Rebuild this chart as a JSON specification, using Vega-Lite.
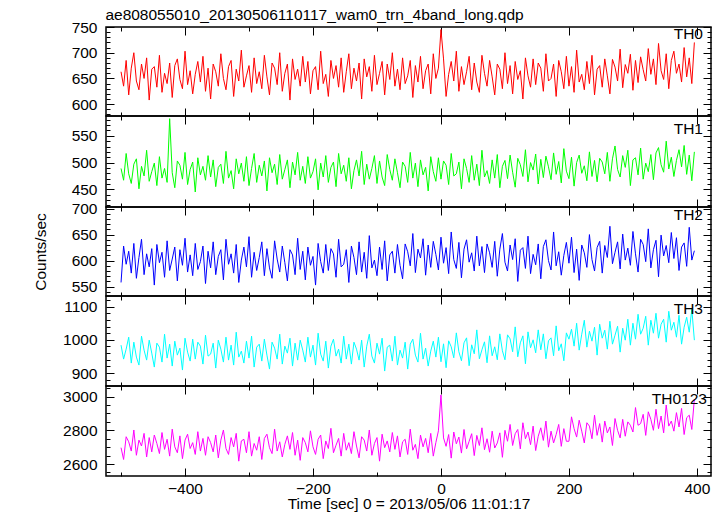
{
"$schema": "https://vega.github.io/schema/vega-lite/v6.json",
"padding": {"left": 32, "top": 7, "right": 0, "bottom": 0},
"title": {"text": "ae808055010_20130506110117_wam0_trn_4band_long.qdp", "anchor": "start", "fontSize": 15.5, "offset": -4, "dx": 73},
"config": {
  "font": "Liberation Sans",
  "view": {"stroke": "#000", "strokeWidth": 1.5},
  "title": {"font": "Liberation Sans", "fontWeight": "normal", "fontSize": 15.5, "color": "#000"},
  "axis": {"domain": false, "grid": false, "zindex": 1, "tickColor": "#000", "tickWidth": 1, "labelColor": "#000", "labelFont": "Liberation Sans", "labelFontSize": 15.5, "titleFont": "Liberation Sans", "titleFontSize": 15.5, "titleFontWeight": "normal", "titleColor": "#000", "labelOverlap": false, "labelFlush": false, "labelPadding": 17, "format": "d"}
},
"data": {"values": [
{"t":-500,"a":663,"b":489,"c":558,"d":984,"e":2697},
{"t":-496,"a":635,"b":467,"c":628,"d":942,"e":2627},
{"t":-492,"a":685,"b":517,"c":593,"d":972,"e":2762},
{"t":-488,"a":618,"b":479,"c":618,"d":1008,"e":2732},
{"t":-484,"a":670,"b":461,"c":576,"d":930,"e":2677},
{"t":-480,"a":700,"b":497,"c":633,"d":993,"e":2802},
{"t":-476,"a":645,"b":507,"c":566,"d":948,"e":2652},
{"t":-472,"a":628,"b":451,"c":606,"d":924,"e":2742},
{"t":-468,"a":678,"b":493,"c":641,"d":1011,"e":2707},
{"t":-464,"a":650,"b":475,"c":573,"d":969,"e":2782},
{"t":-460,"a":690,"b":523,"c":613,"d":939,"e":2642},
{"t":-456,"a":608,"b":465,"c":588,"d":999,"e":2757},
{"t":-452,"a":668,"b":483,"c":623,"d":960,"e":2672},
{"t":-448,"a":673,"b":499,"c":553,"d":918,"e":2772},
{"t":-444,"a":633,"b":457,"c":631,"d":990,"e":2722},
{"t":-440,"a":695,"b":511,"c":596,"d":978,"e":2662},
{"t":-436,"a":623,"b":471,"c":616,"d":933,"e":2787},
{"t":-432,"a":660,"b":489,"c":568,"d":1017,"e":2687},
{"t":-428,"a":640,"b":463,"c":638,"d":945,"e":2747},
{"t":-424,"a":680,"b":582,"c":581,"d":987,"e":2647},
{"t":-420,"a":613,"b":481,"c":603,"d":921,"e":2807},
{"t":-416,"a":675,"b":453,"c":626,"d":996,"e":2702},
{"t":-412,"a":688,"b":503,"c":561,"d":954,"e":2667},
{"t":-408,"a":648,"b":495,"c":621,"d":975,"e":2767},
{"t":-404,"a":630,"b":469,"c":591,"d":909,"e":2632},
{"t":-400,"a":703,"b":519,"c":643,"d":1005,"e":2742},
{"t":-396,"a":638,"b":459,"c":578,"d":963,"e":2777},
{"t":-392,"a":665,"b":487,"c":611,"d":936,"e":2692},
{"t":-388,"a":620,"b":501,"c":571,"d":1002,"e":2727},
{"t":-384,"a":658,"b":445,"c":633,"d":942,"e":2657},
{"t":-380,"a":683,"b":509,"c":583,"d":993,"e":2792},
{"t":-376,"a":643,"b":477,"c":598,"d":981,"e":2677},
{"t":-372,"a":693,"b":493,"c":628,"d":927,"e":2752},
{"t":-368,"a":625,"b":467,"c":556,"d":1014,"e":2652},
{"t":-364,"a":670,"b":513,"c":618,"d":951,"e":2762},
{"t":-360,"a":610,"b":473,"c":586,"d":957,"e":2727},
{"t":-356,"a":678,"b":505,"c":636,"d":990,"e":2672},
{"t":-352,"a":663,"b":455,"c":573,"d":915,"e":2772},
{"t":-348,"a":635,"b":491,"c":608,"d":999,"e":2637},
{"t":-344,"a":698,"b":497,"c":621,"d":972,"e":2742},
{"t":-340,"a":650,"b":461,"c":563,"d":933,"e":2802},
{"t":-336,"a":628,"b":521,"c":641,"d":1008,"e":2692},
{"t":-332,"a":673,"b":471,"c":593,"d":939,"e":2657},
{"t":-328,"a":685,"b":485,"c":613,"d":984,"e":2757},
{"t":-324,"a":615,"b":451,"c":576,"d":924,"e":2702},
{"t":-320,"a":668,"b":507,"c":631,"d":1023,"e":2782},
{"t":-316,"a":645,"b":479,"c":558,"d":948,"e":2617},
{"t":-312,"a":705,"b":499,"c":601,"d":966,"e":2737},
{"t":-308,"a":633,"b":465,"c":626,"d":930,"e":2747},
{"t":-304,"a":655,"b":511,"c":588,"d":996,"e":2667},
{"t":-300,"a":675,"b":457,"c":646,"d":945,"e":2792},
{"t":-296,"a":623,"b":489,"c":568,"d":1011,"e":2647},
{"t":-292,"a":690,"b":517,"c":616,"d":918,"e":2722},
{"t":-288,"a":640,"b":463,"c":581,"d":978,"e":2682},
{"t":-284,"a":663,"b":495,"c":606,"d":987,"e":2762},
{"t":-280,"a":630,"b":475,"c":636,"d":936,"e":2627},
{"t":-276,"a":695,"b":503,"c":571,"d":1002,"e":2752},
{"t":-272,"a":653,"b":447,"c":623,"d":954,"e":2777},
{"t":-268,"a":618,"b":509,"c":586,"d":912,"e":2697},
{"t":-264,"a":680,"b":481,"c":566,"d":993,"e":2662},
{"t":-260,"a":670,"b":497,"c":638,"d":975,"e":2807},
{"t":-256,"a":638,"b":459,"c":603,"d":942,"e":2677},
{"t":-252,"a":700,"b":515,"c":578,"d":1017,"e":2732},
{"t":-248,"a":625,"b":469,"c":628,"d":927,"e":2642},
{"t":-244,"a":660,"b":487,"c":596,"d":981,"e":2717},
{"t":-240,"a":678,"b":505,"c":561,"d":960,"e":2767},
{"t":-236,"a":608,"b":453,"c":621,"d":1005,"e":2687},
{"t":-232,"a":688,"b":501,"c":611,"d":921,"e":2787},
{"t":-228,"a":648,"b":477,"c":573,"d":990,"e":2652},
{"t":-224,"a":668,"b":519,"c":643,"d":939,"e":2742},
{"t":-220,"a":635,"b":467,"c":583,"d":999,"e":2622},
{"t":-216,"a":693,"b":493,"c":618,"d":969,"e":2757},
{"t":-212,"a":643,"b":461,"c":563,"d":933,"e":2727},
{"t":-208,"a":683,"b":511,"c":626,"d":1008,"e":2672},
{"t":-204,"a":620,"b":471,"c":591,"d":948,"e":2797},
{"t":-200,"a":665,"b":483,"c":608,"d":984,"e":2702},
{"t":-196,"a":673,"b":507,"c":553,"d":924,"e":2657},
{"t":-192,"a":628,"b":449,"c":633,"d":1020,"e":2747},
{"t":-188,"a":703,"b":499,"c":598,"d":957,"e":2772},
{"t":-184,"a":640,"b":473,"c":576,"d":936,"e":2632},
{"t":-180,"a":658,"b":513,"c":631,"d":996,"e":2737},
{"t":-176,"a":615,"b":463,"c":581,"d":915,"e":2692},
{"t":-172,"a":685,"b":491,"c":623,"d":981,"e":2812},
{"t":-168,"a":650,"b":501,"c":613,"d":1002,"e":2667},
{"t":-164,"a":675,"b":455,"c":568,"d":951,"e":2712},
{"t":-160,"a":633,"b":517,"c":641,"d":972,"e":2752},
{"t":-156,"a":690,"b":479,"c":588,"d":930,"e":2647},
{"t":-152,"a":623,"b":495,"c":593,"d":1011,"e":2782},
{"t":-148,"a":663,"b":465,"c":621,"d":942,"e":2682},
{"t":-144,"a":698,"b":509,"c":558,"d":987,"e":2727},
{"t":-140,"a":630,"b":451,"c":628,"d":927,"e":2662},
{"t":-136,"a":670,"b":485,"c":606,"d":993,"e":2792},
{"t":-132,"a":645,"b":505,"c":573,"d":972,"e":2707},
{"t":-128,"a":680,"b":475,"c":636,"d":939,"e":2637},
{"t":-124,"a":610,"b":521,"c":578,"d":999,"e":2762},
{"t":-120,"a":688,"b":459,"c":616,"d":918,"e":2742},
{"t":-116,"a":653,"b":497,"c":566,"d":981,"e":2677},
{"t":-112,"a":673,"b":469,"c":648,"d":1017,"e":2802},
{"t":-108,"a":625,"b":489,"c":586,"d":951,"e":2652},
{"t":-104,"a":695,"b":513,"c":601,"d":930,"e":2722},
{"t":-100,"a":638,"b":461,"c":571,"d":990,"e":2757},
{"t":-96,"a":660,"b":503,"c":626,"d":957,"e":2617},
{"t":-92,"a":683,"b":473,"c":583,"d":1005,"e":2777},
{"t":-88,"a":618,"b":457,"c":638,"d":906,"e":2697},
{"t":-84,"a":678,"b":515,"c":561,"d":978,"e":2737},
{"t":-80,"a":648,"b":487,"c":611,"d":984,"e":2672},
{"t":-76,"a":700,"b":467,"c":618,"d":936,"e":2787},
{"t":-72,"a":635,"b":507,"c":576,"d":1011,"e":2687},
{"t":-68,"a":668,"b":481,"c":631,"d":924,"e":2767},
{"t":-64,"a":628,"b":453,"c":591,"d":969,"e":2642},
{"t":-60,"a":690,"b":501,"c":565,"d":945,"e":2732},
{"t":-56,"a":640,"b":493,"c":632,"d":993,"e":2747},
{"t":-52,"a":655,"b":463,"c":617,"d":912,"e":2657},
{"t":-48,"a":685,"b":519,"c":590,"d":987,"e":2807},
{"t":-44,"a":613,"b":471,"c":652,"d":1002,"e":2682},
{"t":-40,"a":675,"b":499,"c":577,"d":954,"e":2717},
{"t":-36,"a":643,"b":455,"c":622,"d":933,"e":2632},
{"t":-32,"a":693,"b":505,"c":605,"d":1020,"e":2772},
{"t":-28,"a":630,"b":477,"c":642,"d":942,"e":2702},
{"t":-24,"a":665,"b":491,"c":572,"d":975,"e":2752},
{"t":-20,"a":678,"b":447,"c":630,"d":921,"e":2667},
{"t":-16,"a":620,"b":511,"c":587,"d":966,"e":2782},
{"t":-12,"a":698,"b":483,"c":637,"d":996,"e":2647},
{"t":-8,"a":650,"b":465,"c":612,"d":948,"e":2727},
{"t":-4,"a":670,"b":509,"c":582,"d":1008,"e":2797},
{"t":0,"a":745,"b":469,"c":645,"d":934,"e":3010},
{"t":4,"a":688,"b":503,"c":595,"d":988,"e":2755},
{"t":8,"a":615,"b":495,"c":625,"d":916,"e":2705},
{"t":12,"a":658,"b":459,"c":575,"d":997,"e":2775},
{"t":16,"a":683,"b":517,"c":655,"d":979,"e":2635},
{"t":20,"a":645,"b":475,"c":602,"d":946,"e":2790},
{"t":24,"a":703,"b":479,"c":585,"d":1021,"e":2720},
{"t":28,"a":625,"b":501,"c":635,"d":964,"e":2760},
{"t":32,"a":673,"b":451,"c":567,"d":937,"e":2665},
{"t":36,"a":638,"b":507,"c":622,"d":991,"e":2805},
{"t":40,"a":663,"b":489,"c":640,"d":1006,"e":2690},
{"t":44,"a":693,"b":463,"c":597,"d":922,"e":2735},
{"t":48,"a":628,"b":513,"c":615,"d":985,"e":2780},
{"t":52,"a":680,"b":467,"c":580,"d":958,"e":2650},
{"t":56,"a":643,"b":497,"c":647,"d":1030,"e":2770},
{"t":60,"a":623,"b":457,"c":590,"d":943,"e":2710},
{"t":64,"a":695,"b":523,"c":627,"d":970,"e":2815},
{"t":68,"a":660,"b":473,"c":577,"d":994,"e":2685},
{"t":72,"a":635,"b":485,"c":632,"d":931,"e":2750},
{"t":76,"a":685,"b":461,"c":615,"d":1012,"e":2670},
{"t":80,"a":653,"b":505,"c":587,"d":952,"e":2795},
{"t":84,"a":618,"b":471,"c":637,"d":979,"e":2695},
{"t":88,"a":678,"b":515,"c":570,"d":940,"e":2725},
{"t":92,"a":668,"b":453,"c":622,"d":1018,"e":2785},
{"t":96,"a":630,"b":493,"c":652,"d":967,"e":2640},
{"t":100,"a":700,"b":504,"c":597,"d":940,"e":2800},
{"t":104,"a":640,"b":470,"c":580,"d":1015,"e":2735},
{"t":108,"a":675,"b":514,"c":630,"d":1003,"e":2835},
{"t":112,"a":620,"b":482,"c":602,"d":964,"e":2710},
{"t":116,"a":683,"b":454,"c":642,"d":1039,"e":2780},
{"t":120,"a":648,"b":508,"c":560,"d":949,"e":2805},
{"t":124,"a":665,"b":496,"c":620,"d":991,"e":2690},
{"t":128,"a":610,"b":474,"c":625,"d":1012,"e":2845},
{"t":132,"a":690,"b":524,"c":585,"d":928,"e":2750},
{"t":136,"a":655,"b":464,"c":647,"d":1024,"e":2790},
{"t":140,"a":633,"b":500,"c":575,"d":976,"e":2715},
{"t":144,"a":688,"b":486,"c":612,"d":1000,"e":2825},
{"t":148,"a":638,"b":516,"c":592,"d":961,"e":2680},
{"t":152,"a":680,"b":460,"c":632,"d":1030,"e":2765},
{"t":156,"a":670,"b":506,"c":565,"d":970,"e":2815},
{"t":160,"a":625,"b":472,"c":627,"d":1018,"e":2740},
{"t":164,"a":698,"b":512,"c":640,"d":943,"e":2855},
{"t":168,"a":645,"b":492,"c":600,"d":997,"e":2700},
{"t":172,"a":650,"b":468,"c":582,"d":1006,"e":2795},
{"t":176,"a":678,"b":518,"c":655,"d":952,"e":2725},
{"t":180,"a":615,"b":478,"c":590,"d":1042,"e":2775},
{"t":184,"a":685,"b":502,"c":617,"d":967,"e":2835},
{"t":188,"a":663,"b":462,"c":572,"d":988,"e":2705},
{"t":192,"a":630,"b":526,"c":610,"d":937,"e":2810},
{"t":196,"a":693,"b":484,"c":635,"d":1021,"e":2735},
{"t":200,"a":635,"b":470,"c":595,"d":1002,"e":2735},
{"t":204,"a":673,"b":510,"c":645,"d":1032,"e":2880},
{"t":208,"a":623,"b":456,"c":577,"d":981,"e":2810},
{"t":212,"a":705,"b":500,"c":622,"d":1050,"e":2760},
{"t":216,"a":643,"b":514,"c":562,"d":969,"e":2860},
{"t":220,"a":658,"b":480,"c":630,"d":1017,"e":2795},
{"t":224,"a":628,"b":494,"c":615,"d":1059,"e":2725},
{"t":228,"a":683,"b":466,"c":587,"d":978,"e":2845},
{"t":232,"a":640,"b":520,"c":650,"d":1026,"e":2825},
{"t":236,"a":695,"b":474,"c":602,"d":996,"e":2750},
{"t":240,"a":618,"b":504,"c":580,"d":1038,"e":2890},
{"t":244,"a":668,"b":464,"c":625,"d":954,"e":2770},
{"t":248,"a":675,"b":508,"c":637,"d":1047,"e":2840},
{"t":252,"a":633,"b":501,"c":576,"d":1005,"e":2730},
{"t":256,"a":688,"b":479,"c":629,"d":1029,"e":2855},
{"t":260,"a":655,"b":519,"c":606,"d":972,"e":2785},
{"t":264,"a":620,"b":465,"c":666,"d":1056,"e":2820},
{"t":268,"a":687,"b":507,"c":594,"d":987,"e":2710},
{"t":272,"a":672,"b":531,"c":616,"d":1014,"e":2870},
{"t":276,"a":645,"b":487,"c":636,"d":1041,"e":2800},
{"t":280,"a":707,"b":473,"c":584,"d":963,"e":2755},
{"t":284,"a":632,"b":513,"c":651,"d":1035,"e":2865},
{"t":288,"a":677,"b":491,"c":601,"d":999,"e":2765},
{"t":292,"a":660,"b":523,"c":624,"d":1062,"e":2850},
{"t":296,"a":697,"b":457,"c":591,"d":984,"e":2830},
{"t":300,"a":627,"b":505,"c":656,"d":1050,"e":2790},
{"t":304,"a":685,"b":509,"c":613,"d":1002,"e":2935},
{"t":308,"a":642,"b":477,"c":578,"d":1077,"e":2830},
{"t":312,"a":692,"b":527,"c":641,"d":1017,"e":2840},
{"t":316,"a":667,"b":469,"c":631,"d":1035,"e":2895},
{"t":320,"a":645,"b":499,"c":598,"d":1071,"e":2770},
{"t":324,"a":708,"b":483,"c":661,"d":984,"e":2910},
{"t":328,"a":658,"b":515,"c":586,"d":1059,"e":2865},
{"t":332,"a":688,"b":468,"c":621,"d":1020,"e":2800},
{"t":336,"a":638,"b":518,"c":639,"d":1080,"e":2925},
{"t":340,"a":718,"b":528,"c":569,"d":1005,"e":2810},
{"t":344,"a":665,"b":496,"c":649,"d":1047,"e":2885},
{"t":348,"a":648,"b":482,"c":609,"d":1062,"e":2785},
{"t":352,"a":698,"b":540,"c":629,"d":993,"e":2950},
{"t":356,"a":630,"b":488,"c":596,"d":1086,"e":2825},
{"t":360,"a":685,"b":510,"c":654,"d":1029,"e":2855},
{"t":364,"a":703,"b":474,"c":604,"d":1053,"e":2795},
{"t":368,"a":660,"b":504,"c":644,"d":1008,"e":2905},
{"t":372,"a":678,"b":524,"c":581,"d":1074,"e":2820},
{"t":376,"a":643,"b":492,"c":626,"d":987,"e":2930},
{"t":380,"a":710,"b":532,"c":634,"d":1038,"e":2775},
{"t":384,"a":653,"b":478,"c":589,"d":1068,"e":2875},
{"t":388,"a":690,"b":514,"c":664,"d":1023,"e":2890},
{"t":392,"a":640,"b":466,"c":601,"d":1092,"e":2805},
{"t":396,"a":720,"b":520,"c":619,"d":999,"e":2985}
]},
"vconcat": [
{
  "width": 605, "height": 89,
  "title": {"text": "TH0", "anchor": "end", "frame": "group", "offset": -22, "dx": -8},
  "layer": [
    {"mark": {"type": "line", "color": "#ff0000", "strokeWidth": 1, "clip": true},
     "encoding": {
       "x": {"field": "t", "type": "quantitative", "scale": {"domain": [-523.5, 422], "nice": false, "zero": false}, "axis": {"orient": "bottom", "values": [-400,-200,0,200,400], "tickSize": -8, "labels": false, "title": null}},
       "y": {"field": "a", "type": "quantitative", "scale": {"domain": [577, 750], "nice": false, "zero": false}, "axis": {"orient": "left", "values": [600,650,700,750], "tickSize": -8, "title": null}}
     }},
    {"mark": {"type": "line", "opacity": 0},
     "encoding": {
       "x": {"field": "t", "type": "quantitative", "axis": {"orient": "top", "values": [-400,-200,0,200,400], "tickSize": -8, "labels": false, "title": null}},
       "y": {"field": "a", "type": "quantitative", "axis": {"orient": "right", "values": [600,650,700,750], "tickSize": -8, "labels": false, "title": null}}
     }},
    {"mark": {"type": "line", "opacity": 0},
     "encoding": {
       "x": {"field": "t", "type": "quantitative", "axis": {"orient": "bottom", "values": [-500,-300,-100,100,300], "tickSize": -4, "labels": false, "title": null}},
       "y": {"field": "a", "type": "quantitative", "axis": {"orient": "left", "values": [580,590,610,620,630,640,660,670,680,690,710,720,730,740], "tickSize": -4, "labels": false, "title": null}}
     }},
    {"mark": {"type": "line", "opacity": 0},
     "encoding": {
       "x": {"field": "t", "type": "quantitative", "axis": {"orient": "top", "values": [-500,-300,-100,100,300], "tickSize": -4, "labels": false, "title": null}},
       "y": {"field": "a", "type": "quantitative", "axis": {"orient": "right", "values": [580,590,610,620,630,640,660,670,680,690,710,720,730,740], "tickSize": -4, "labels": false, "title": null}}
     }}
  ],
  "resolve": {"axis": {"x": "independent", "y": "independent"}}
},
{
  "width": 605, "height": 91,
  "title": {"text": "TH1", "anchor": "end", "frame": "group", "offset": -22, "dx": -8},
  "layer": [
    {"mark": {"type": "line", "color": "#00ff00", "strokeWidth": 1, "clip": true},
     "encoding": {
       "x": {"field": "t", "type": "quantitative", "scale": {"domain": [-523.5, 422], "nice": false, "zero": false}, "axis": {"orient": "bottom", "values": [-400,-200,0,200,400], "tickSize": -8, "labels": false, "title": null}},
       "y": {"field": "b", "type": "quantitative", "scale": {"domain": [417, 587], "nice": false, "zero": false}, "axis": {"orient": "left", "values": [450,500,550], "tickSize": -8, "title": null}}
     }},
    {"mark": {"type": "line", "opacity": 0},
     "encoding": {
       "x": {"field": "t", "type": "quantitative", "axis": {"orient": "top", "values": [-400,-200,0,200,400], "tickSize": -8, "labels": false, "title": null}},
       "y": {"field": "b", "type": "quantitative", "axis": {"orient": "right", "values": [450,500,550], "tickSize": -8, "labels": false, "title": null}}
     }},
    {"mark": {"type": "line", "opacity": 0},
     "encoding": {
       "x": {"field": "t", "type": "quantitative", "axis": {"orient": "bottom", "values": [-500,-300,-100,100,300], "tickSize": -4, "labels": false, "title": null}},
       "y": {"field": "b", "type": "quantitative", "axis": {"orient": "left", "values": [420,430,440,460,470,480,490,510,520,530,540,560,570,580], "tickSize": -4, "labels": false, "title": null}}
     }},
    {"mark": {"type": "line", "opacity": 0},
     "encoding": {
       "x": {"field": "t", "type": "quantitative", "axis": {"orient": "top", "values": [-500,-300,-100,100,300], "tickSize": -4, "labels": false, "title": null}},
       "y": {"field": "b", "type": "quantitative", "axis": {"orient": "right", "values": [420,430,440,460,470,480,490,510,520,530,540,560,570,580], "tickSize": -4, "labels": false, "title": null}}
     }}
  ],
  "resolve": {"axis": {"x": "independent", "y": "independent"}}
},
{
  "width": 605, "height": 89,
  "title": {"text": "TH2", "anchor": "end", "frame": "group", "offset": -22, "dx": -8},
  "layer": [
    {"mark": {"type": "line", "color": "#0000ff", "strokeWidth": 1, "clip": true},
     "encoding": {
       "x": {"field": "t", "type": "quantitative", "scale": {"domain": [-523.5, 422], "nice": false, "zero": false}, "axis": {"orient": "bottom", "values": [-400,-200,0,200,400], "tickSize": -8, "labels": false, "title": null}},
       "y": {"field": "c", "type": "quantitative", "scale": {"domain": [532, 703], "nice": false, "zero": false}, "axis": {"orient": "left", "values": [550,600,650,700], "tickSize": -8, "title": "Counts/sec", "titlePadding": 23}}
     }},
    {"mark": {"type": "line", "opacity": 0},
     "encoding": {
       "x": {"field": "t", "type": "quantitative", "axis": {"orient": "top", "values": [-400,-200,0,200,400], "tickSize": -8, "labels": false, "title": null}},
       "y": {"field": "c", "type": "quantitative", "axis": {"orient": "right", "values": [550,600,650,700], "tickSize": -8, "labels": false, "title": null}}
     }},
    {"mark": {"type": "line", "opacity": 0},
     "encoding": {
       "x": {"field": "t", "type": "quantitative", "axis": {"orient": "bottom", "values": [-500,-300,-100,100,300], "tickSize": -4, "labels": false, "title": null}},
       "y": {"field": "c", "type": "quantitative", "axis": {"orient": "left", "values": [540,560,570,580,590,610,620,630,640,660,670,680,690], "tickSize": -4, "labels": false, "title": null}}
     }},
    {"mark": {"type": "line", "opacity": 0},
     "encoding": {
       "x": {"field": "t", "type": "quantitative", "axis": {"orient": "top", "values": [-500,-300,-100,100,300], "tickSize": -4, "labels": false, "title": null}},
       "y": {"field": "c", "type": "quantitative", "axis": {"orient": "right", "values": [540,560,570,580,590,610,620,630,640,660,670,680,690], "tickSize": -4, "labels": false, "title": null}}
     }}
  ],
  "resolve": {"axis": {"x": "independent", "y": "independent"}}
},
{
  "width": 605, "height": 90,
  "title": {"text": "TH3", "anchor": "end", "frame": "group", "offset": -22, "dx": -8},
  "layer": [
    {"mark": {"type": "line", "color": "#00ffff", "strokeWidth": 1, "clip": true},
     "encoding": {
       "x": {"field": "t", "type": "quantitative", "scale": {"domain": [-523.5, 422], "nice": false, "zero": false}, "axis": {"orient": "bottom", "values": [-400,-200,0,200,400], "tickSize": -8, "labels": false, "title": null}},
       "y": {"field": "d", "type": "quantitative", "scale": {"domain": [861, 1132], "nice": false, "zero": false}, "axis": {"orient": "left", "values": [900,1000,1100], "tickSize": -8, "title": null}}
     }},
    {"mark": {"type": "line", "opacity": 0},
     "encoding": {
       "x": {"field": "t", "type": "quantitative", "axis": {"orient": "top", "values": [-400,-200,0,200,400], "tickSize": -8, "labels": false, "title": null}},
       "y": {"field": "d", "type": "quantitative", "axis": {"orient": "right", "values": [900,1000,1100], "tickSize": -8, "labels": false, "title": null}}
     }},
    {"mark": {"type": "line", "opacity": 0},
     "encoding": {
       "x": {"field": "t", "type": "quantitative", "axis": {"orient": "bottom", "values": [-500,-300,-100,100,300], "tickSize": -4, "labels": false, "title": null}},
       "y": {"field": "d", "type": "quantitative", "axis": {"orient": "left", "values": [880,920,940,960,980,1020,1040,1060,1080,1120], "tickSize": -4, "labels": false, "title": null}}
     }},
    {"mark": {"type": "line", "opacity": 0},
     "encoding": {
       "x": {"field": "t", "type": "quantitative", "axis": {"orient": "top", "values": [-500,-300,-100,100,300], "tickSize": -4, "labels": false, "title": null}},
       "y": {"field": "d", "type": "quantitative", "axis": {"orient": "right", "values": [880,920,940,960,980,1020,1040,1060,1080,1120], "tickSize": -4, "labels": false, "title": null}}
     }}
  ],
  "resolve": {"axis": {"x": "independent", "y": "independent"}}
},
{
  "width": 605, "height": 90,
  "title": {"text": "TH0123", "anchor": "end", "frame": "group", "offset": -22, "dx": -4},
  "layer": [
    {"mark": {"type": "line", "color": "#ff00ff", "strokeWidth": 1, "clip": true},
     "encoding": {
       "x": {"field": "t", "type": "quantitative", "scale": {"domain": [-523.5, 422], "nice": false, "zero": false}, "axis": {"orient": "bottom", "values": [-400,-200,0,200,400], "tickSize": -8, "labelPadding": 13, "title": "Time [sec] 0 = 2013/05/06 11:01:17", "titlePadding": 0}},
       "y": {"field": "e", "type": "quantitative", "scale": {"domain": [2529, 3063], "nice": false, "zero": false}, "axis": {"orient": "left", "values": [2600,2800,3000], "tickSize": -8, "title": null}}
     }},
    {"mark": {"type": "line", "opacity": 0},
     "encoding": {
       "x": {"field": "t", "type": "quantitative", "axis": {"orient": "top", "values": [-400,-200,0,200,400], "tickSize": -8, "labels": false, "title": null}},
       "y": {"field": "e", "type": "quantitative", "axis": {"orient": "right", "values": [2600,2800,3000], "tickSize": -8, "labels": false, "title": null}}
     }},
    {"mark": {"type": "line", "opacity": 0},
     "encoding": {
       "x": {"field": "t", "type": "quantitative", "axis": {"orient": "bottom", "values": [-500,-300,-100,100,300], "tickSize": -4, "labels": false, "title": null}},
       "y": {"field": "e", "type": "quantitative", "axis": {"orient": "left", "values": [2550,2650,2700,2750,2850,2900,2950,3050], "tickSize": -4, "labels": false, "title": null}}
     }},
    {"mark": {"type": "line", "opacity": 0},
     "encoding": {
       "x": {"field": "t", "type": "quantitative", "axis": {"orient": "top", "values": [-500,-300,-100,100,300], "tickSize": -4, "labels": false, "title": null}},
       "y": {"field": "e", "type": "quantitative", "axis": {"orient": "right", "values": [2550,2650,2700,2750,2850,2900,2950,3050], "tickSize": -4, "labels": false, "title": null}}
     }}
  ],
  "resolve": {"axis": {"x": "independent", "y": "independent"}}
}
],
"spacing": 0,
"bounds": "flush"
}
